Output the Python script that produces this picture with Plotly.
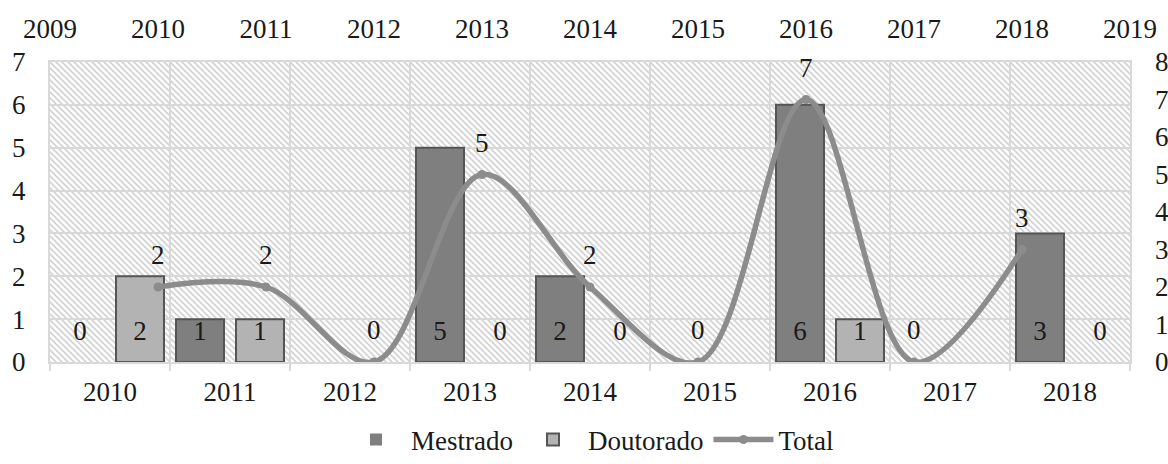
import base64
import plotly.graph_objects as go

years = ["2010", "2011", "2012", "2013", "2014", "2015", "2016", "2017", "2018"]
mestrado = [0, 1, None, 5, 2, None, 6, None, 3]
doutorado = [2, 1, None, 0, 0, None, 1, None, 0]
total = [2, 2, 0, 5, 2, 0, 7, 0, 3]
total_years = [2010, 2011, 2012, 2013, 2014, 2015, 2016, 2017, 2018]
top_ticks = list(range(2009, 2020))

FONT = "Liberation Serif"
FS = 27
TXT = "#1a1a1a"
GRID = "#d9d9d9"

idx = list(range(len(years)))
x_m = [i - 0.25 for i in idx]
x_d = [i + 0.25 for i in idx]


def edge_widths(vals):
    return [2 if v else 0 for v in vals]


fig = go.Figure()
fig.add_trace(go.Bar(
    x=x_m, y=mestrado, width=0.4, name="Mestrado",
    marker=dict(color="#7f7f7f", line=dict(color="#555555", width=edge_widths(mestrado))),
))
fig.add_trace(go.Bar(
    x=x_d, y=doutorado, width=0.4, name="Doutorado",
    marker=dict(color="#b3b3b3", line=dict(color="#555555", width=edge_widths(doutorado))),
))
# inside-base labels of the bars
for xs, vals in ((x_m, mestrado), (x_d, doutorado)):
    fig.add_trace(go.Scatter(
        x=[x for x, v in zip(xs, vals) if v is not None],
        y=[0.68 for v in vals if v is not None],
        text=[str(v) for v in vals if v is not None],
        mode="text", textposition="middle center",
        textfont=dict(family=FONT, size=FS, color=TXT),
        showlegend=False, hoverinfo="skip", cliponaxis=False,
    ))
fig.add_trace(go.Scatter(
    x=total_years, y=total, name="Total", xaxis="x2", yaxis="y2",
    mode="lines+markers",
    line=dict(color="#8c8c8c", width=5.5, shape="spline", smoothing=1),
    marker=dict(color="#8c8c8c", size=9),
))
for xv, yv in zip(total_years, total):
    fig.add_annotation(x=xv, y=yv, xref="x2", yref="y2", text=str(yv),
                       showarrow=False, yshift=32,
                       font=dict(family=FONT, size=FS, color=TXT))

svg = (
    '<svg xmlns="http://www.w3.org/2000/svg" width="1080" height="300" '
    'viewBox="0 0 1080 300" preserveAspectRatio="none">'
    '<defs><pattern id="p" width="6" height="6" patternUnits="userSpaceOnUse">'
    '<rect width="6" height="6" fill="#ffffff"/>'
    '<path d="M0,0 L6,6 M-1,5 L1,7 M5,-1 L7,1" stroke="#d2d2d2" stroke-width="1.6"/>'
    '</pattern></defs><rect width="1080" height="300" fill="url(#p)"/></svg>'
)
uri = "data:image/svg+xml;base64," + base64.b64encode(svg.encode()).decode()
fig.add_layout_image(dict(source=uri, xref="paper", yref="paper", x=0, y=1,
                          sizex=1, sizey=1, xanchor="left", yanchor="top",
                          sizing="stretch", layer="below"))

fig.update_layout(
    width=1168, height=464,
    margin=dict(l=50, r=38, t=62, b=102, autoexpand=False),
    paper_bgcolor="white", plot_bgcolor="rgba(0,0,0,0)",
    font=dict(family=FONT, size=FS, color=TXT),
    barmode="overlay", showlegend=True,
    legend=dict(orientation="h", x=0.5, xanchor="center", y=-0.26, yanchor="middle",
                font=dict(family=FONT, size=FS, color=TXT), itemwidth=60,
                traceorder="normal"),
    xaxis=dict(range=[-0.5, 8.5], tickmode="array", tickvals=idx, ticktext=years,
               ticks="", showgrid=False, zeroline=False, automargin=False,
               showline=True, linecolor=GRID, linewidth=2, mirror=True,
               minor=dict(tick0=-0.5, dtick=1, ticks="outside", ticklen=7,
                          tickcolor=GRID, tickwidth=2, showgrid=True,
                          gridcolor=GRID, gridwidth=2),
               ticklabelstandoff=5),
    yaxis=dict(range=[0, 7], dtick=1, showgrid=True, gridcolor=GRID, gridwidth=2,
               zeroline=False, showline=True, linecolor=GRID, linewidth=2, mirror=True,
               ticks="", ticklabelstandoff=17, automargin=False),
    xaxis2=dict(overlaying="x", side="top", range=[2009, 2019], tickmode="array",
                tickvals=top_ticks, showgrid=False, zeroline=False, ticks="",
                ticklabelstandoff=18, automargin=False),
    yaxis2=dict(overlaying="y", side="right", range=[0, 8], dtick=1, showgrid=False,
                zeroline=False, ticks="", ticklabelstandoff=24, automargin=False),
)
fig.write_html("out.html")
